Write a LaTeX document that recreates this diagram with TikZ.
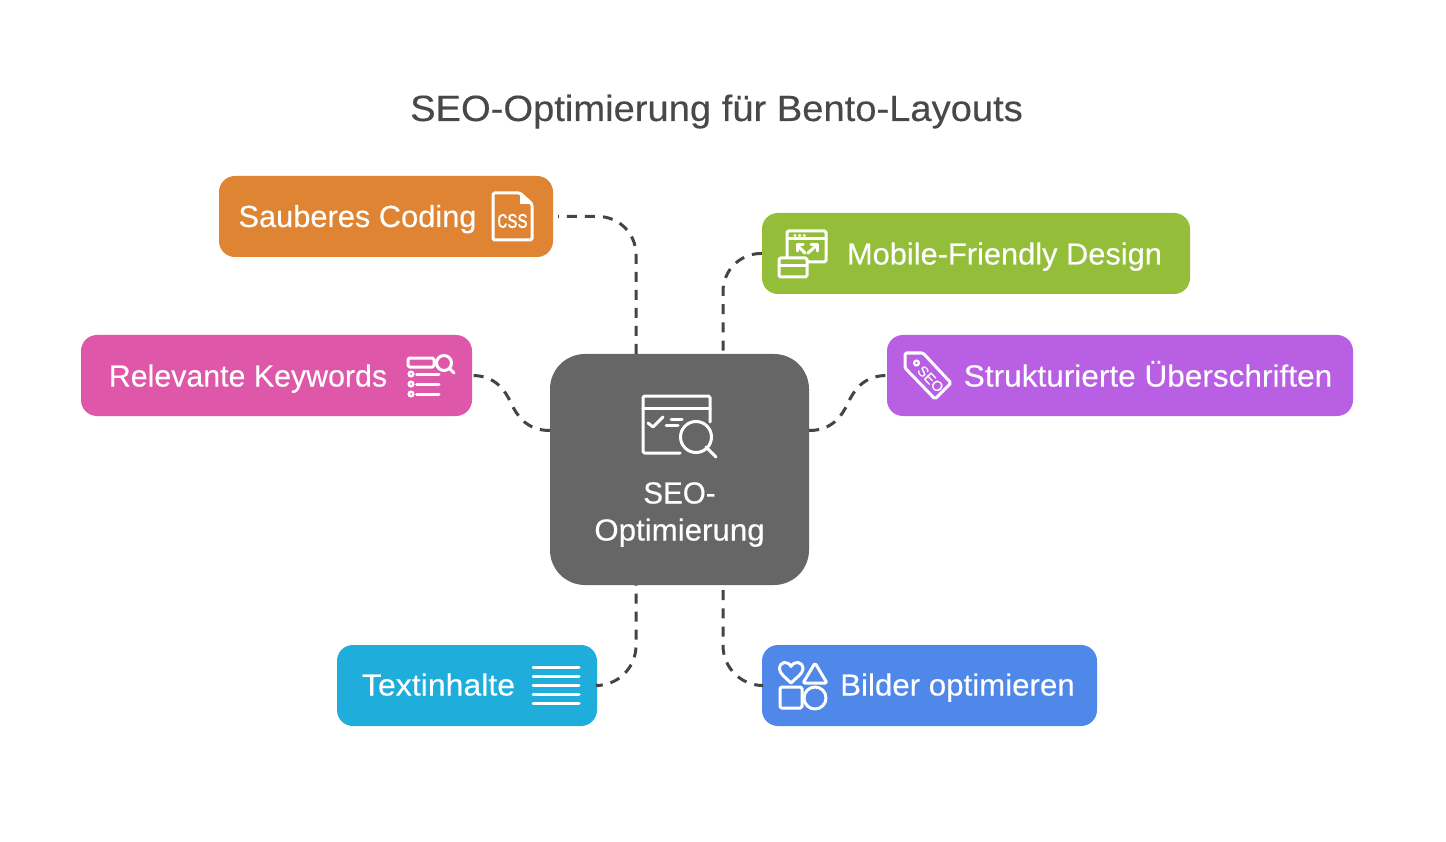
\documentclass[tikz,border=0pt]{standalone}
\usepackage{fontspec}
\setmainfont[FakeBold=0.25]{Liberation Sans}
\usetikzlibrary{calc}
\definecolor{cOrange}{HTML}{DF8433}
\definecolor{cGreen}{HTML}{94BE3A}
\definecolor{cPurple}{HTML}{B85FE4}
\definecolor{cPink}{HTML}{DF57A8}
\definecolor{cCyan}{HTML}{1FADDC}
\definecolor{cBlue}{HTML}{4F88E8}
\definecolor{cGray}{HTML}{666666}
\definecolor{cLine}{HTML}{444444}
\definecolor{cTitle}{HTML}{484848}
\tikzset{
  box/.style={rectangle,rounded corners=16pt,inner sep=0pt,minimum height=81pt,draw=none},
  label/.style={anchor=base,inner sep=0pt,text=white,font=\fontsize{30.5pt}{36pt}\selectfont},
  conn/.style={draw=cLine,line width=3pt,dash pattern=on 10pt off 8pt},
  connb/.style={draw=cLine,line width=3pt,dash pattern=on 10pt off 8.25pt},
  icon/.style={draw=white,line width=3pt,line join=round,line cap=round,fill=none},
  icont/.style={draw=white,line width=3pt,line join=round,line cap=round,fill=none,rounded corners=1.5pt},
}
\begin{document}
\begin{tikzpicture}[x=1pt,y=-1pt]
\useasboundingbox (0,0) rectangle (1446,842);
\fill[white] (0,0) rectangle (1446,842);

\node[anchor=base,inner sep=0pt,text=cTitle,font=\fontsize{36.5pt}{42pt}\selectfont,xscale=1.045] (title) at (716.5,121) {SEO-Optimierung für Bento-Layouts};

% boxes
\node[box,fill=cOrange,minimum width=334pt] (orange) at (386,216.5) {};
\node[box,fill=cGreen,minimum width=428pt] (green) at (976,253.5) {};
\node[box,fill=cPurple,minimum width=466pt] (purple) at (1120,375.5) {};
\node[box,fill=cPink,minimum width=391pt] (pink) at (276.5,375.5) {};
\node[box,fill=cCyan,minimum width=260pt] (cyan) at (467,685.5) {};
\node[box,fill=cBlue,minimum width=335pt] (blue) at (929.5,685.5) {};
\node[rectangle,rounded corners=35pt,inner sep=0pt,fill=cGray,minimum width=259pt,minimum height=231pt] (main) at (679.5,469.5) {};

% free ends at the centre box
\coordinate (mTL) at ($(main.north)+(-43.5,0)$);
\coordinate (mTR) at ($(main.north)+(43.5,0)$);
\coordinate (mBL) at ($(main.south)+(-43.5,0)$);
\coordinate (mBR) at ($(main.south)+(43.5,0)$);
\coordinate (mL) at ($(main.west)+(0,-39)$);
\coordinate (mR) at ($(main.east)+(0,-39)$);
\coordinate (oOut) at ($(orange.east)+(5,0)$);
\coordinate (cOut) at ($(cyan.east)+(2,0)$);

% connectors
\draw[conn,rounded corners=38pt] (mTL) |- (oOut);
\draw[connb,rounded corners=38pt] (green.west) -| (mTR);
\draw[conn,rounded corners=40pt] (cOut) -| (mBL);
\draw[connb,rounded corners=40pt] (blue.west) -| (mBR);
\draw[conn] (mL) .. controls (527,430.5) and (517,416) .. (511,403) .. controls (505,390) and (495,375.5) .. (pink.east);
\draw[conn] (mR) .. controls (832,430.5) and (842,416) .. (848,403) .. controls (854,390) and (864,375.5) .. (purple.west);

% texts
\node[label,xscale=1.01] (tOrange) at (357.5,227) {Sauberes Coding};
\node[label,xscale=1.01] (tGreen) at (1004.5,264.5) {Mobile-Friendly Design};
\node[label,xscale=1.035] (tPurple) at (1148,386.5) {Strukturierte Überschriften};
\node[label,xscale=0.995] (tPink) at (248,386.5) {Relevante Keywords};
\node[label,xscale=1.05] (tCyan) at (438.5,695.5) {Textinhalte};
\node[label,xscale=1.025] (tBlue) at (957.5,695.5) {Bilder optimieren};
\node[label,xscale=0.97] (tMain1) at (679.5,503.5) {SEO-};
\node[label,xscale=1.025] (tMain2) at (679.5,540.5) {Optimierung};

% icon: css file
\draw[icont] (520,193) -- (493,193) -- (493,240) -- (532,240) -- (532,204) -- cycle;
\fill[white] (520,193) -- (520,204) -- (532,204) -- cycle;
\node[inner sep=0pt,text=white,font=\fontsize{26pt}{26pt}\selectfont,xscale=0.78] (cssText) at (512.5,221) {css};

% icon: mobile friendly
\draw[icont] (787,258) -- (787,231) -- (826,231) -- (826,262) -- (807,262);
\draw[icon] (787,239) -- (826,239);
\fill[white] (795,235.5) circle (1.7) (799.6,235.5) circle (1.7) (804.2,235.5) circle (1.7);
\draw[icont,fill=cGreen] (779,258) rectangle (807,277);
\draw[icon] (779,266) -- (807,266);
\draw[icon] (805,253) -- (797,245);
\draw[icon] (797,251) -- (797,245) -- (803,245);
\draw[icon] (808,253) -- (817,245);
\draw[icon] (811,245) -- (817,245) -- (817,251);

% icon: SEO tag
\draw[icont] (905,353) -- (923,353) -- (951,383) -- (935,399) -- (905,368) -- cycle;
\draw[draw=white,line width=2.2pt] (916.5,363) circle (2.4);
\node[inner sep=0pt,text=white,rotate=-46,font=\fontsize{14.5pt}{15pt}\selectfont] (seoText) at (930.5,379) {SEO};

% icon: keywords
\draw[icont] (408,358) rectangle (434,367);
\draw[icon] (444,363) circle (7.5);
\draw[icon] (449.5,368.5) -- (454,373);
\foreach \yy in {374,384,394}{
  \fill[white] (411,\yy) circle (3.6);
  \fill[cPink] (411,\yy) circle (1);
  \draw[icon] (416.5,\yy) -- (439,\yy);
}

% icon: main
\draw[icont] (680,453) -- (643,453) -- (643,396) -- (710,396) -- (710,422);
\draw[icon] (643,408) -- (710,408);
\draw[icon] (648,423) -- (653,427) -- (663,417);
\draw[icon] (671,419) -- (682,419);
\draw[icon] (666,425) -- (678,425);
\draw[icon] (696,437) circle (15.5);
\draw[icon] (706,447) -- (716,457);

% icon: text lines
\foreach \yy in {667,676,685,694,703}{
  \draw[icon] (533,\yy) -- (579,\yy);
}

% icon: shapes
\draw[icon] (791,683) .. controls (786,678) and (779.5,673.5) .. (779.5,669) .. controls (779.5,661) and (788,660.5) .. (791,666.5) .. controls (794,660.5) and (803,661) .. (803,669) .. controls (803,673.5) and (796,678) .. (791,683) -- cycle;
\draw[icont] (815,663) -- (827,683) -- (803,683) -- cycle;
\draw[icont] (780,687) rectangle (802,708);
\draw[icon] (815,698) circle (11);
\end{tikzpicture}
\end{document}
